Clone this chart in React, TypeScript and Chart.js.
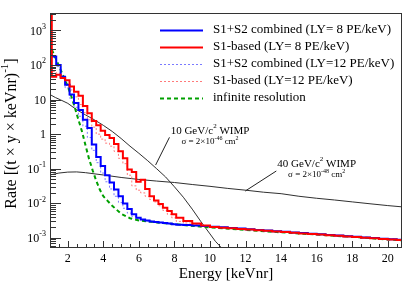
import React, { useEffect, useRef } from 'react';
import { Chart, registerables } from 'chart.js';
Chart.register(...registerables);

const FONT = '"Liberation Serif", "Times New Roman", serif';

const X_MIN = 1;
const X_MAX = 20.8;
const Y_MIN = 5.1e-4;
const Y_MAX = 3200;

const xTickLabels = [2, 4, 6, 8, 10, 12, 14, 16, 18, 20];
const yDecadeExps = [-3, -2, -1, 0, 1, 2, 3];

// histogram bin edges (keVnr)
const binEdgesHead = [1.0, 1.1, 1.35, 1.6, 1.85, 2.1, 2.35, 2.6, 2.85, 3.1, 3.35, 3.6, 3.85, 4.1, 4.35, 4.6, 4.85, 5.1, 5.35, 5.6, 5.85, 6.1, 6.35, 6.6, 6.85, 7.1, 7.35, 7.6, 7.85];
const binEdgesTail = [8.1, 8.5, 9, 9.5, 10, 10.5, 11, 11.5, 12, 12.5, 13, 13.5, 14, 14.5, 15, 15.5, 16, 16.5, 17, 17.5, 18, 18.5, 19, 19.5, 20, 20.5, 20.8];

const s1s2LY8Head = [200, 176, 101, 46, 27, 14, 8, 5, 2.6, 1.5, 0.5, 0.22, 0.12, 0.065, 0.04, 0.025, 0.016, 0.0099, 0.0068, 0.0048, 0.0038, 0.0034, 0.0032, 0.003, 0.0029, 0.0028, 0.0027, 0.0026, 0.0025];
const s1s2LY8Tail = [0.0024, 0.00235, 0.0023, 0.0022, 0.0021, 0.00202, 0.00194, 0.00186, 0.00178, 0.0017, 0.00163, 0.00156, 0.0015, 0.00144, 0.00138, 0.00132, 0.00127, 0.00122, 0.00117, 0.00112, 0.00108, 0.00103, 0.00099, 0.00095, 0.00092, 0.00089];
const s1LY8Head = [5000, 46, 52, 42, 36, 24, 17, 13, 6.5, 4.0, 2.4, 1.8, 1.25, 0.95, 0.78, 0.52, 0.32, 0.2, 0.095, 0.08, 0.042, 0.048, 0.026, 0.016, 0.012, 0.0095, 0.0075, 0.006, 0.0048];
const s1LY8Tail = [0.0038, 0.0031, 0.0026, 0.0023, 0.00205, 0.00198, 0.0019, 0.00182, 0.00175, 0.00167, 0.0016, 0.00153, 0.00147, 0.00141, 0.00135, 0.0013, 0.00125, 0.0012, 0.00115, 0.0011, 0.00106, 0.00101, 0.00097, 0.00093, 0.0009, 0.00087];
const s1s2LY12Head = [220, 165, 90, 42, 22, 11, 6, 3.3, 1.7, 0.8, 0.34, 0.15, 0.075, 0.042, 0.026, 0.016, 0.0105, 0.0072, 0.0052, 0.0042, 0.0036, 0.0033, 0.0031, 0.003, 0.0029, 0.0028, 0.0027, 0.0026, 0.0025];
const s1s2LY12Tail = [0.0024, 0.00235, 0.0023, 0.0022, 0.0021, 0.00202, 0.00194, 0.00186, 0.00178, 0.0017, 0.00163, 0.00156, 0.0015, 0.00144, 0.00138, 0.00132, 0.00127, 0.00122, 0.00117, 0.00112, 0.00108, 0.00103, 0.00099, 0.00095, 0.00092, 0.00089];
const s1LY12Head = [5000, 65, 58, 44, 30, 19, 12, 7.2, 4.2, 2.6, 1.6, 1.0, 0.72, 0.55, 0.45, 0.32, 0.2, 0.14, 0.065, 0.032, 0.024, 0.02, 0.016, 0.013, 0.011, 0.0085, 0.0062, 0.0048, 0.0038];
const s1LY12Tail = [0.003, 0.0027, 0.0024, 0.0022, 0.00205, 0.00198, 0.0019, 0.00182, 0.00175, 0.00167, 0.0016, 0.00153, 0.00147, 0.00141, 0.00135, 0.0013, 0.00125, 0.0012, 0.00115, 0.0011, 0.00106, 0.00101, 0.00097, 0.00093, 0.0009, 0.00087];

const infX = [1.1, 1.2, 1.4, 1.6, 1.8, 2.0, 2.2, 2.4, 2.6, 2.8, 3.0, 3.2, 3.4, 3.6, 3.8, 4.0, 4.2, 4.5, 5.0, 5.5, 6.0, 7.0, 8.0, 10, 12, 14, 16, 18, 20, 20.8];
const infY = [280, 215, 125, 72, 42, 24, 12.5, 5.8, 2.6, 1.2, 0.47, 0.19, 0.09, 0.045, 0.025, 0.016, 0.0124, 0.0085, 0.005, 0.0037, 0.0032, 0.0028, 0.0025, 0.002, 0.0017, 0.00145, 0.00125, 0.00107, 0.0009, 0.00085];

const wimp10X = [1.0, 1.3, 1.6, 2.0, 2.5, 3.0, 3.5, 4.0, 4.5, 5.0, 5.5, 6.0, 6.5, 7.0, 7.5, 8.0, 8.5, 9.0, 9.5, 10.0, 10.3, 10.6, 10.8];
const wimp10Y = [14, 11.5, 9.8, 7.8, 5.1, 3.6, 2.6, 1.8, 1.2, 0.75, 0.45, 0.28, 0.17, 0.1, 0.058, 0.03, 0.015, 0.0068, 0.0029, 0.0013, 0.0008, 0.00055, 0.0004];

const wimp40X = [1, 1.5, 2, 2.5, 3, 4, 5, 6, 7, 8, 9, 10, 11, 12, 13, 14, 15, 16, 17, 18, 19, 20, 20.8];
const wimp40Y = [0.066, 0.075, 0.08, 0.081, 0.077, 0.066, 0.056, 0.049, 0.044, 0.04, 0.035, 0.031, 0.027, 0.024, 0.021, 0.019, 0.016, 0.014, 0.0125, 0.011, 0.0097, 0.0086, 0.0079];

const legendLabels = [
  'S1+S2 combined (LY= 8 PE/keV)',
  'S1-based (LY= 8 PE/keV)',
  'S1+S2 combined (LY=12 PE/keV)',
  'S1-based (LY=12 PE/keV)',
  'infinite resolution',
];

// annotations: label positions and pointer lines in data coordinates
const wimp10Label = { x: 10.0, y1: 1.24, y2: 0.6 };
const wimp10Pointer = { x1: 7.72, y1: 0.81, x2: 6.94, y2: 0.128 };
const wimp40Label = { x: 16.0, y1: 0.137, y2: 0.066 };
const wimp40Pointer = { x1: 13.73, y1: 0.086, x2: 11.98, y2: 0.0226 };

type Seg = { t: string; sup?: boolean };

function drawRich(ctx: CanvasRenderingContext2D, segs: Seg[], x: number, y: number, size: number, align: 'left' | 'center' | 'right') {
  const supSize = Math.round(size * 0.68);
  const widths = segs.map((s) => {
    ctx.font = `${s.sup ? supSize : size}px ${FONT}`;
    return ctx.measureText(s.t).width;
  });
  const total = widths.reduce((a, b) => a + b, 0);
  let cx = align === 'left' ? x : align === 'center' ? x - total / 2 : x - total;
  ctx.textAlign = 'left';
  ctx.textBaseline = 'middle';
  segs.forEach((s, i) => {
    ctx.font = `${s.sup ? supSize : size}px ${FONT}`;
    ctx.fillText(s.t, cx, s.sup ? y - size * 0.4 : y);
    cx += widths[i];
  });
}

function histPoints(edges: number[], vals: number[]) {
  const pts = vals.map((v, i) => ({ x: edges[i], y: v }));
  pts.push({ x: edges[edges.length - 1], y: vals[vals.length - 1] });
  return pts;
}

function linePoints(xs: number[], ys: number[]) {
  return xs.map((x, i) => ({ x, y: ys[i] }));
}

const binEdges = binEdgesHead.concat(binEdgesTail);

const decorPlugin = {
  id: 'decor',
  beforeDraw(chart: any) {
    const ctx = chart.ctx;
    ctx.save();
    ctx.fillStyle = '#ffffff';
    ctx.fillRect(0, 0, chart.width, chart.height);
    ctx.restore();
  },
  afterDatasetsDraw(chart: any) {
    const ctx: CanvasRenderingContext2D = chart.ctx;
    const { left, right, top, bottom } = chart.chartArea;
    const xs = chart.scales.x;
    const ys = chart.scales.y;
    ctx.save();
    ctx.fillStyle = '#000';
    ctx.strokeStyle = '#333';
    ctx.lineWidth = 1;
    // frame
    ctx.strokeRect(left + 0.5, top + 0.5, right - left - 1, bottom - top - 1);

    // x ticks (inside)
    ctx.beginPath();
    for (let v = 1.5; v < X_MAX; v += 0.5) {
      const px = Math.round(xs.getPixelForValue(v)) + 0.5;
      const len = xTickLabels.includes(v) ? 7 : 4;
      ctx.moveTo(px, bottom);
      ctx.lineTo(px, bottom - len);
    }
    // y ticks (inside)
    for (const e of yDecadeExps.concat([-4])) {
      for (let k = 1; k <= 9; k++) {
        const val = k * Math.pow(10, e);
        if (val < Y_MIN || val > Y_MAX) continue;
        const py = Math.round(ys.getPixelForValue(val)) + 0.5;
        const len = k === 1 ? 11 : 6;
        ctx.moveTo(left, py);
        ctx.lineTo(left + len, py);
      }
    }
    ctx.stroke();

    // x labels
    ctx.font = `12px ${FONT}`;
    ctx.textAlign = 'center';
    ctx.textBaseline = 'alphabetic';
    for (const v of xTickLabels) {
      ctx.fillText(String(v), xs.getPixelForValue(v), bottom + 13.5);
    }
    // y labels
    for (const e of yDecadeExps) {
      const py = ys.getPixelForValue(Math.pow(10, e));
      let segs: Seg[];
      if (e === 0) segs = [{ t: '1' }];
      else if (e === 1) segs = [{ t: '10' }];
      else segs = [{ t: '10' }, { t: String(e), sup: true }];
      drawRich(ctx, segs, left - 4, py + 1, 12, 'right');
    }

    // axis titles
    ctx.font = `15px ${FONT}`;
    ctx.textAlign = 'center';
    ctx.textBaseline = 'alphabetic';
    ctx.fillText('Energy [keVnr]', (left + right) / 2, 278);
    ctx.save();
    ctx.translate(12, (top + bottom) / 2 + 3);
    ctx.rotate(-Math.PI / 2);
    drawRich(ctx, [{ t: 'Rate [(t × y × keVnr)' }, { t: '-1', sup: true }, { t: ']' }], 0, 0, 16, 'center');
    ctx.restore();

    // legend
    const styles = chart.data.datasets;
    const legendOrder = [1, 0, 4, 3, 2];
    const lx0 = left + 110;
    const lx1 = left + 153;
    const tx = left + 163;
    legendLabels.forEach((label, i) => {
      const y = top + 17 + i * 16.9;
      const ds = styles[legendOrder[i]];
      ctx.save();
      ctx.strokeStyle = ds.borderColor;
      ctx.lineWidth = ds.borderWidth;
      ctx.setLineDash(ds.borderDash || []);
      ctx.beginPath();
      ctx.moveTo(lx0, Math.round(y) + 0.5);
      ctx.lineTo(lx1, Math.round(y) + 0.5);
      ctx.stroke();
      ctx.restore();
      ctx.fillStyle = '#000';
      drawRich(ctx, [{ t: label }], tx, y, 13, 'left');
    });

    // annotations
    ctx.strokeStyle = '#222';
    ctx.lineWidth = 1;
    ctx.beginPath();
    ctx.moveTo(xs.getPixelForValue(wimp10Pointer.x1), ys.getPixelForValue(wimp10Pointer.y1));
    ctx.lineTo(xs.getPixelForValue(wimp10Pointer.x2), ys.getPixelForValue(wimp10Pointer.y2));
    ctx.moveTo(xs.getPixelForValue(wimp40Pointer.x1), ys.getPixelForValue(wimp40Pointer.y1));
    ctx.lineTo(xs.getPixelForValue(wimp40Pointer.x2), ys.getPixelForValue(wimp40Pointer.y2));
    ctx.stroke();
    ctx.fillStyle = '#000';
    drawRich(ctx, [{ t: '10 GeV/c' }, { t: '2', sup: true }, { t: ' WIMP' }], xs.getPixelForValue(wimp10Label.x), ys.getPixelForValue(wimp10Label.y1), 11, 'center');
    drawRich(ctx, [{ t: 'σ = 2×10' }, { t: '-46', sup: true }, { t: ' cm' }, { t: '2', sup: true }], xs.getPixelForValue(wimp10Label.x), ys.getPixelForValue(wimp10Label.y2), 9, 'center');
    drawRich(ctx, [{ t: '40 GeV/c' }, { t: '2', sup: true }, { t: ' WIMP' }], xs.getPixelForValue(wimp40Label.x), ys.getPixelForValue(wimp40Label.y1), 11, 'center');
    drawRich(ctx, [{ t: 'σ = 2×10' }, { t: '-48', sup: true }, { t: ' cm' }, { t: '2', sup: true }], xs.getPixelForValue(wimp40Label.x), ys.getPixelForValue(wimp40Label.y2), 9, 'center');
    ctx.restore();
  },
};

export default function App() {
  const canvasRef = useRef<HTMLCanvasElement | null>(null);
  useEffect(() => {
    if (!canvasRef.current) return;
    const chart = new Chart(canvasRef.current, {
      type: 'line',
      data: {
        datasets: [
          { label: 'S1-based (LY= 8 PE/keV)', data: histPoints(binEdges, s1LY8Head.concat(s1LY8Tail)), borderColor: '#ff0000', borderWidth: 2, stepped: true },
          { label: 'S1+S2 combined (LY= 8 PE/keV)', data: histPoints(binEdges, s1s2LY8Head.concat(s1s2LY8Tail)), borderColor: '#0000ff', borderWidth: 2, stepped: true },
          { label: 'infinite resolution', data: linePoints(infX, infY), borderColor: '#00a000', borderWidth: 2, borderDash: [4, 3] },
          { label: 'S1-based (LY=12 PE/keV)', data: histPoints(binEdges, s1LY12Head.concat(s1LY12Tail)), borderColor: '#ff7a7a', borderWidth: 1, borderDash: [2, 2], stepped: true },
          { label: 'S1+S2 combined (LY=12 PE/keV)', data: histPoints(binEdges, s1s2LY12Head.concat(s1s2LY12Tail)), borderColor: '#7a7aff', borderWidth: 1, borderDash: [2, 2], stepped: true },
          { label: '10 GeV WIMP', data: linePoints(wimp10X, wimp10Y), borderColor: '#303030', borderWidth: 1 },
          { label: '40 GeV WIMP', data: linePoints(wimp40X, wimp40Y), borderColor: '#303030', borderWidth: 1 },
        ] as any,
      },
      options: {
        responsive: false,
        maintainAspectRatio: false,
        animation: false,
        layout: { padding: { top: 13, right: 15, left: 0, bottom: 0 } },
        plugins: { legend: { display: false }, tooltip: { enabled: false } },
        elements: { point: { radius: 0 }, line: { tension: 0, fill: false } },
        scales: {
          x: {
            type: 'linear', min: X_MIN, max: X_MAX,
            ticks: { display: false }, grid: { display: false }, border: { display: false },
            afterFit: (s: any) => { s.height = 35; },
          },
          y: {
            type: 'logarithmic', min: Y_MIN, max: Y_MAX,
            ticks: { display: false }, grid: { display: false }, border: { display: false },
            afterFit: (s: any) => { s.width = 50; },
          },
        },
      } as any,
      plugins: [decorPlugin],
    });
    return () => chart.destroy();
  }, []);
  return (
    <div style={{ position: 'fixed', left: 0, top: 0, width: 417, height: 283, background: '#fff' }}>
      <canvas ref={canvasRef} width={417} height={283} style={{ width: 417, height: 283, display: 'block' }} />
    </div>
  );
}
